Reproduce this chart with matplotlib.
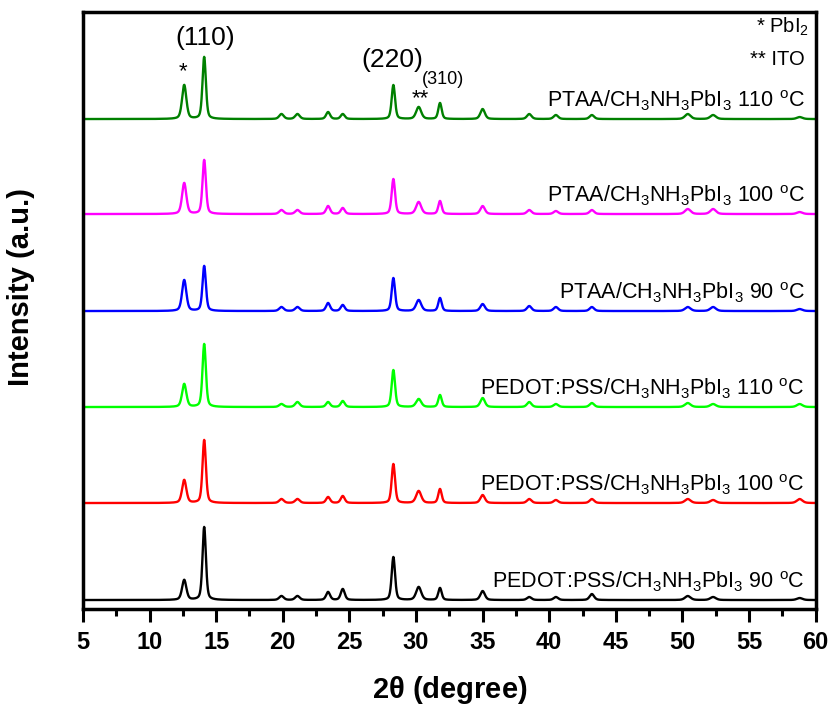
import numpy as np
import matplotlib
matplotlib.use("Agg")
import matplotlib.pyplot as plt
from matplotlib.ticker import MultipleLocator

plt.rcParams['font.family'] = ['Liberation Sans', 'DejaVu Sans']
plt.rcParams['mathtext.fontset'] = 'custom'
plt.rcParams['mathtext.rm'] = 'Liberation Sans'
plt.rcParams['mathtext.it'] = 'Liberation Sans:italic'
plt.rcParams['mathtext.bf'] = 'Liberation Sans:bold'
plt.rcParams['mathtext.default'] = 'regular'

# peak positions (2theta, degree) and widths (FWHM)
peak_pos = [12.6, 14.1, 19.9, 21.1, 23.4, 24.5, 28.3, 30.2, 31.8, 35.0,
            38.5, 40.5, 43.2, 50.4, 52.3, 58.8]
peak_fwhm = [0.38, 0.30, 0.40, 0.40, 0.35, 0.35, 0.30, 0.45, 0.30, 0.40,
             0.40, 0.40, 0.40, 0.50, 0.50, 0.50]

# peak heights for each sample (a.u.)
h_pedot_90 = [20, 73, 4, 4, 8, 11, 43, 13, 12, 9, 3, 3, 6, 4, 3, 2]
h_pedot_100 = [23, 63, 4, 4, 6, 7, 39, 12, 14, 8, 4, 3, 4, 4, 3, 4]
h_pedot_110 = [23, 63, 3, 5, 5, 6, 37, 8, 12, 9, 5, 3, 4, 4, 3, 3]
h_ptaa_90 = [31, 45, 4, 4, 8, 6, 33, 11, 13, 7, 5, 4, 4, 4, 4, 2]
h_ptaa_100 = [31, 54, 4, 4, 8, 6, 35, 12, 13, 8, 4, 3, 4, 5, 5, 2]
h_ptaa_110 = [34, 62, 5, 5, 7, 5, 34, 12, 16, 10, 5, 4, 4, 5, 4, 2]

offsets = [9, 106, 202, 298, 395, 490]
labels = ['PEDOT:PSS/CH$_3$NH$_3$PbI$_3$ 90 $^o$C',
          'PEDOT:PSS/CH$_3$NH$_3$PbI$_3$ 100 $^o$C',
          'PEDOT:PSS/CH$_3$NH$_3$PbI$_3$ 110 $^o$C',
          'PTAA/CH$_3$NH$_3$PbI$_3$ 90 $^o$C',
          'PTAA/CH$_3$NH$_3$PbI$_3$ 100 $^o$C',
          'PTAA/CH$_3$NH$_3$PbI$_3$ 110 $^o$C']
colors = ['black', '#FF0000', '#00FF00', '#0000FF', '#FF00FF', '#008000']
heights = [h_pedot_90, h_pedot_100, h_pedot_110, h_ptaa_90, h_ptaa_100, h_ptaa_110]

two_theta = np.linspace(5, 60, 2751)


def pattern(h):
    y = np.zeros_like(two_theta)
    for p, w, a in zip(peak_pos, peak_fwhm, h):
        g = np.exp(-4 * np.log(2) * (two_theta - p) ** 2 / w ** 2)
        lo = 1 / (1 + 4 * (two_theta - p) ** 2 / w ** 2)
        y += a * (0.6 * g + 0.4 * lo)
    return y


fig = plt.figure(figsize=(8.33, 7.09), dpi=100)
ax = fig.add_axes([0.0996, 0.141, 0.8796, 0.842])

for h, off, col, lab in zip(heights, offsets, colors, labels):
    ax.plot(two_theta, off + pattern(h), color=col, lw=1.7)
    ax.text(59.15, off + 12, lab, ha='right', va='baseline', fontsize=15.5)

# peak annotations
ax.text(14.15, 571, '(110)', ha='center', va='center', fontsize=19)
ax.text(12.5, 537, '*', ha='center', va='center', fontsize=16)
ax.text(28.2, 549, '(220)', ha='center', va='center', fontsize=19)
ax.text(32.0, 530, '(310)', ha='center', va='center', fontsize=13)
ax.text(30.35, 510, '**', ha='center', va='center', fontsize=16)
ax.text(59.5, 576, '* PbI$_2$', ha='right', va='baseline', fontsize=14.5)
ax.text(59.15, 544, '** ITO', ha='right', va='baseline', fontsize=14.5)

ax.set_xlim(5, 60)
ax.set_ylim(0, 597)
ax.xaxis.set_major_locator(MultipleLocator(5))
ax.xaxis.set_minor_locator(MultipleLocator(2.5))
ax.set_yticks([])
ax.tick_params(axis='x', which='major', direction='out', length=9.5, width=2.2,
               labelsize=17, pad=6)
ax.tick_params(axis='x', which='minor', direction='out', length=5, width=2.2)
for lbl in ax.get_xticklabels():
    lbl.set_fontweight('bold')
for s in ax.spines.values():
    s.set_linewidth(2.5)

ax.set_xlabel('2$\\theta$ (degree)', fontsize=21, fontweight='bold', labelpad=15)
ax.set_ylabel('Intensity (a.u.)', fontsize=21, fontweight='bold', labelpad=14)
ax.yaxis.set_label_coords(-0.065, 0.54)

fig.savefig('out.png', dpi=100)
